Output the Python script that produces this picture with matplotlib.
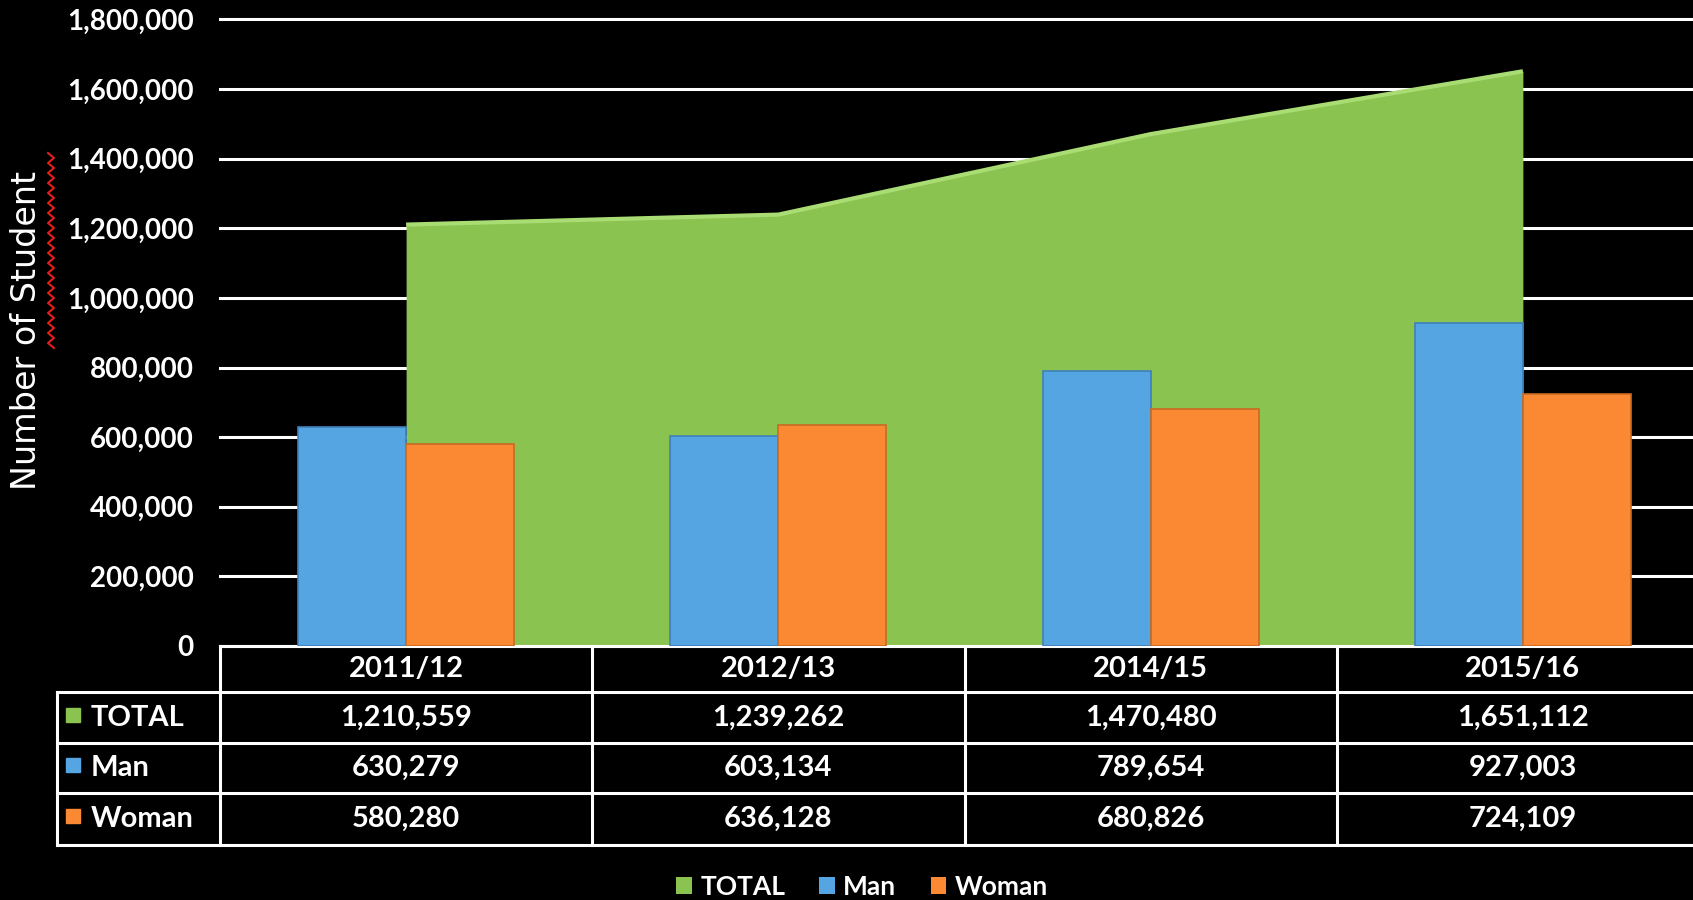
import numpy as np
import matplotlib
matplotlib.use('Agg')
import matplotlib.pyplot as plt
from matplotlib.patches import Patch
from matplotlib.lines import Line2D
from matplotlib.transforms import blended_transform_factory

years = ['2011/12', '2012/13', '2014/15', '2015/16']
total = [1210559, 1239262, 1470480, 1651112]
man = [630279, 603134, 789654, 927003]
woman = [580280, 636128, 680826, 724109]
series_names = ['TOTAL', 'Man', 'Woman']

green = '#8BC351'
green_top = '#A9DC72'
blue = '#55A5E3'
orange = '#FB8933'

W, H = 1693, 900
fig = plt.figure(figsize=(W / 100, H / 100), dpi=100, facecolor='black')
plt.rcParams['savefig.facecolor'] = 'black'

# plot area runs a little past the right edge, as in the reference
ax = fig.add_axes([220 / W, 254 / H, 1489 / W, 626.6 / H], facecolor='black')

x = np.arange(len(years))
bw = 0.29

ax.fill_between(x, total, color=green, lw=0, zorder=2)
ax.plot(x, total, color=green_top, lw=3, zorder=3, solid_capstyle='butt')
ax.bar(x - bw / 2, man, bw, color=blue, edgecolor='#3D80BA', lw=1.2, zorder=4)
ax.bar(x + bw / 2, woman, bw, color=orange, edgecolor='#C96A22', lw=1.2, zorder=4)

ax.set_xlim(-0.5, len(years) - 0.5)
ax.set_ylim(0, 1800000)
ax.set_yticks(range(0, 1800001, 200000))
ax.set_yticklabels([f'{v:,}' for v in range(0, 1800001, 200000)])
ax.set_xticks([])
ax.tick_params(axis='y', length=0, pad=19, colors='white', labelsize=20)
for lab in ax.get_yticklabels():
    lab.set_fontfamily('Lato')
    lab.set_fontweight('bold')
for s in ax.spines.values():
    s.set_visible(False)
ax.yaxis.grid(True, color='white', lw=2.2)
ax.set_axisbelow(True)
for gl in ax.yaxis.get_gridlines():
    gl.set_clip_on(False)

# -----data table under the plot-----
tr = blended_transform_factory(ax.transData, fig.transFigure)
rows_y = [1 - 646 / H, 1 - 692 / H, 1 - 743 / H, 1 - 793 / H, 1 - 845 / H]
lab_left = -0.5 - (220 - 57) / 372.25
right = len(years) - 0.5 + 0.5
lw_tab = 2.2

ax.plot([-0.5, right], [rows_y[0]] * 2, color='white', lw=lw_tab, transform=tr, clip_on=False)
for yy in rows_y[1:]:
    ax.plot([lab_left, right], [yy] * 2, color='white', lw=lw_tab, transform=tr, clip_on=False)
ax.plot([lab_left] * 2, [rows_y[1], rows_y[-1]], color='white', lw=lw_tab, transform=tr, clip_on=False)
for xb in np.arange(len(years) + 1) - 0.5:
    ax.plot([xb] * 2, [rows_y[0], rows_y[-1]], color='white', lw=lw_tab, transform=tr, clip_on=False)

tfont = dict(family='Lato', weight='bold', size=21, color='white')
for i, yr in enumerate(years):
    ax.text(i, (rows_y[0] + rows_y[1]) / 2, yr, ha='center', va='center', transform=tr, **tfont)
table_vals = [total, man, woman]
colors = [green, blue, orange]
for r, (name, vals, c) in enumerate(zip(series_names, table_vals, colors)):
    ymid = (rows_y[r + 1] + rows_y[r + 2]) / 2
    for i, v in enumerate(vals):
        ax.text(i, ymid, f'{v:,}', ha='center', va='center', transform=tr, **tfont)
    ax.plot([-0.5 - (220 - 73) / 372.25], [ymid + 0.003], marker='s', ms=10, color=c,
            transform=tr, clip_on=False)
    ax.text(-0.5 - (220 - 91) / 372.25, ymid, name, ha='left', va='center', transform=tr, **tfont)

# axis title (with the spell-check squiggle seen in the reference)
fig.text(27 / W, 1 - 330 / H, 'Number of Student', rotation=90, ha='center', va='center',
         color='white', fontsize=24, family='DejaVu Sans')
sq_y = np.arange(153, 350, 5)
sq_x = 51 + np.where(np.arange(len(sq_y)) % 2 == 0, -3, 3)
fig.add_artist(Line2D(sq_x / W, 1 - sq_y / H, color='#E0201B', lw=1.5, transform=fig.transFigure))

handles = [Patch(facecolor=c, edgecolor='none') for c in colors]
leg = fig.legend(handles, series_names, loc='center', bbox_to_anchor=(862 / W, 13 / H), ncol=3,
                 frameon=False, handlelength=0.6, handleheight=0.6, handletextpad=0.3,
                 columnspacing=1.3, prop=dict(family='Lato', weight='bold', size=19))
for t in leg.get_texts():
    t.set_color('white')

fig.savefig('out.png', dpi=100, facecolor='black')
